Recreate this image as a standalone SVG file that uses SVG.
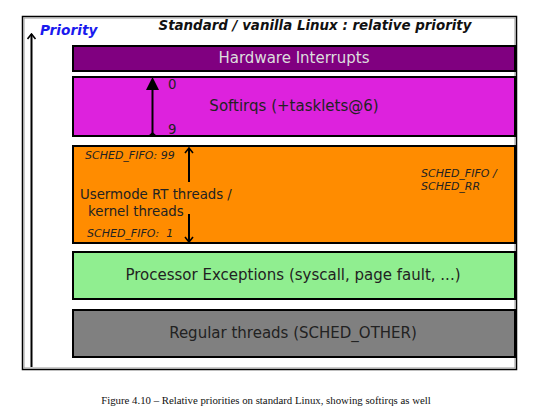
<svg xmlns="http://www.w3.org/2000/svg" width="533" height="417" viewBox="0 0 533 417">
<defs>
<style>
.box{stroke:#000;stroke-width:2}
.lbl{font-family:"DejaVu Sans",sans-serif;font-size:15px;text-anchor:middle}
.sm{font-family:"DejaVu Sans",sans-serif;font-size:11px;font-style:italic;fill:#222}
.mid{font-family:"DejaVu Sans",sans-serif;font-size:13.3px;fill:#222}
.ln{stroke:#000;stroke-width:2;fill:none}
</style>
<marker id="open" viewBox="0 0 10 10" refX="9" refY="5" markerWidth="10" markerHeight="10" markerUnits="userSpaceOnUse" orient="auto">
<path d="M4,1 L9,5 L4,9" fill="none" stroke="#000" stroke-width="1.6"/>
</marker>
</defs>
<rect x="0" y="0" width="533" height="417" fill="#fff"/>
<g id="frame">
<rect x="22.5" y="16.5" width="494" height="353" fill="#fff" stroke="#000" stroke-width="1.5"/>
<rect x="24" y="18" width="491" height="350" fill="none" stroke="#999" stroke-width="1"/>
</g>
<g id="title">
<text x="40" y="35" font-family="DejaVu Sans,sans-serif" font-size="13.7" font-weight="bold" font-style="italic" fill="#1a1aee">Priority</text>
<text x="315" y="30" font-family="DejaVu Sans,sans-serif" font-size="13.4" font-weight="bold" font-style="italic" text-anchor="middle" fill="#111">Standard / vanilla Linux : relative priority</text>
</g>
<g id="hw">
<rect class="box" x="73" y="46" width="442" height="25" fill="#800080"/>
<text class="lbl" x="294" y="63" fill="#ddd">Hardware Interrupts</text>
</g>
<g id="softirq">
<rect class="box" x="73" y="77" width="442" height="59" fill="#dd22dd"/>
<text class="lbl" x="294" y="111" fill="#222">Softirqs (+tasklets@6)</text>
<text class="mid" x="168" y="89">0</text>
<text class="mid" x="168" y="134">9</text>
</g>
<g id="rt">
<rect class="box" x="73" y="146" width="442" height="97" fill="#ff8c00"/>
<text class="sm" x="85" y="159">SCHED_FIFO: 99</text>
<text class="mid" x="80" y="199">Usermode RT threads /</text>
<text class="mid" x="88" y="216">kernel threads</text>
<text class="sm" x="87" y="237" xml:space="preserve">SCHED_FIFO:  1</text>
<text class="sm" x="421" y="177">SCHED_FIFO /</text>
<text class="sm" x="421" y="190">SCHED_RR</text>
</g>
<g id="exc">
<rect class="box" x="73" y="252" width="442" height="47" fill="#90ee90"/>
<text class="lbl" x="293" y="280" fill="#222">Processor Exceptions (syscall, page fault, ...)</text>
</g>
<g id="regular">
<rect class="box" x="73" y="310" width="442" height="47" fill="#808080"/>
<text class="lbl" x="293" y="338" fill="#222">Regular threads (SCHED_OTHER)</text>
</g>
<g id="connectors">
<line class="ln" x1="31.5" y1="367" x2="31.5" y2="34" marker-end="url(#open)"/>
<line class="ln" x1="152.5" y1="135" x2="152.5" y2="88"/>
<path d="M146,90 L152.5,77 L159,90 Z" fill="#000"/>
<path d="M148,136 L152.5,132 L157,136 Z" fill="#000"/>
<line class="ln" x1="189" y1="182" x2="189" y2="148" marker-end="url(#open)"/>
<line class="ln" x1="189" y1="214" x2="189" y2="242" marker-end="url(#open)"/>
</g>
<text x="266" y="404" font-family="Liberation Serif,serif" font-size="10.8" text-anchor="middle" fill="#111">Figure 4.10 – Relative priorities on standard Linux, showing softirqs as well</text>
</svg>
